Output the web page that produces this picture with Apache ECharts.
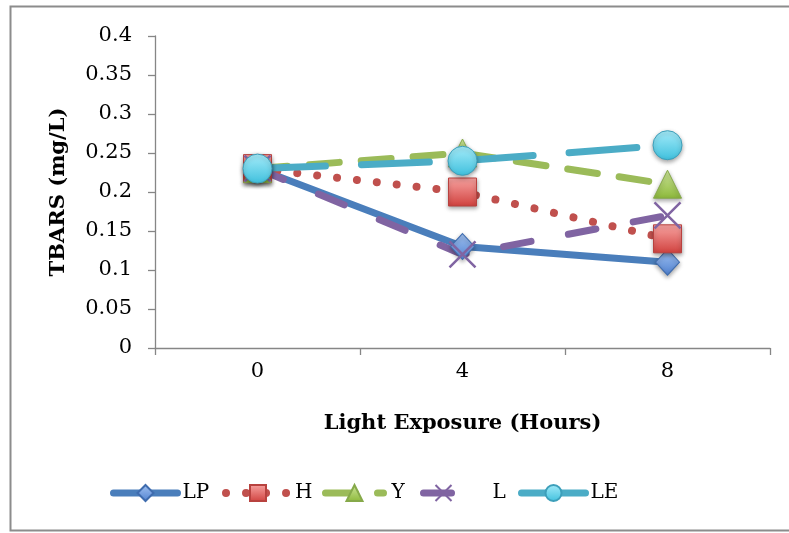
<!DOCTYPE html>
<html>
<head>
<meta charset="utf-8">
<script src="https://cdn.jsdelivr.net/npm/echarts@6/dist/echarts.min.js"></script>
<style>html,body{margin:0;padding:0;background:#fff}#c{width:789px;height:533px}</style>
</head>
<body>
<div id="c"></div>
<script>
const categories = ['0', '4', '8'];
const seriesNames = ['LP', 'H', 'Y', 'L', 'LE'];
const valuesLP = [0.23, 0.13, 0.11];
const valuesH = [0.23, 0.20, 0.14];
const valuesY = [0.23, 0.25, 0.21];
const valuesL = [0.23, 0.12, 0.17];
const valuesLE = [0.23, 0.24, 0.26];
const yTicks = { min: 0, max: 0.4, interval: 0.05 };

const FONT = 'DejaVu Serif';
function grad(top, bottom) {
  return new echarts.graphic.LinearGradient(0, 0, 0, 1, [
    { offset: 0, color: top }, { offset: 1, color: bottom }
  ]);
}
const shadow = { shadowColor: 'rgba(0,0,0,0.35)', shadowBlur: 4, shadowOffsetY: 2 };
const crossPath = 'path://M0,0L20,20M20,0L0,20';

const seriesDefs = [
  { name: 'LP', data: valuesLP, color: '#4a7ebb', symbol: 'diamond', size: [24, 26],
    fill: grad('#a3c3f2', '#4f81d0'), border: '#3f6cae', dash: 'solid', width: 7 },
  { name: 'H', data: valuesH, color: '#c0504d', symbol: 'rect', size: 28,
    fill: grad('#f8a4a2', '#d0413e'), border: '#b8423f', dash: [0.01, 20], width: 8 },
  { name: 'Y', data: valuesY, color: '#9bbb59', symbol: 'triangle', size: [28, 28],
    fill: grad('#cfe79b', '#8cb83a'), border: '#86a94a', dash: [30, 22], width: 7 },
  { name: 'L', data: valuesL, color: '#8064a2', symbol: crossPath, size: 26,
    fill: 'rgba(0,0,0,0)', border: '#8064a2', dash: [28, 38], width: 7, cross: true },
  { name: 'LE', data: valuesLE, color: '#4bacc6', symbol: 'circle', size: 29,
    fill: grad('#a6ecfa', '#3fc0dd'), border: '#3d9fba', dash: [68, 36], width: 7 }
];

const series = seriesDefs.map(d => ({
  name: d.name,
  type: 'line',
  data: d.data,
  symbol: d.symbol,
  symbolSize: d.size,
  showAllSymbol: true,
  animation: false,
  lineStyle: { color: d.color, width: d.width, type: d.dash, cap: 'round', join: 'round' },
  itemStyle: Object.assign({
    color: d.fill, borderColor: d.border, borderWidth: d.cross ? 2.5 : 1, opacity: 1
  }, d.cross ? {} : shadow),
  emphasis: { disabled: true }
}));

const legendPos = [
  { name: 'LP', left: 110, w: 64, pad: 0 },
  { name: 'H', left: 222, w: 64, pad: 0 },
  { name: 'Y', left: 322, w: 58, pad: 3 },
  { name: 'L', left: 420, w: 40, pad: 24 },
  { name: 'LE', left: 518, w: 64, pad: 0 }
];
const legends = legendPos.map(p => ({
  data: [p.name],
  left: p.left,
  top: 483,
  itemWidth: p.w,
  itemHeight: 20,
  itemGap: 0,
  padding: 0,
  selectedMode: false,
  lineStyle: { width: 'inherit' },
  textStyle: { fontFamily: FONT, fontSize: 20, color: '#000', padding: [3, 0, 0, p.pad] }
}));

const option = {
  backgroundColor: '#fff',
  animation: false,
  grid: { left: 155, right: 19, top: 36, bottom: 185, containLabel: false },
  legend: legends,
  xAxis: {
    type: 'category',
    data: categories,
    boundaryGap: true,
    name: 'Light Exposure (Hours)',
    nameLocation: 'middle',
    nameGap: 65,
    nameTextStyle: { fontFamily: FONT, fontSize: 21, fontWeight: 'bold', color: '#000' },
    axisLine: { lineStyle: { color: '#868686', width: 1.3 } },
    axisTick: { show: true, length: 7, alignWithLabel: false, lineStyle: { color: '#868686', width: 1.3 } },
    axisLabel: { fontFamily: FONT, fontSize: 21, color: '#000', margin: 13 },
    splitLine: { show: false }
  },
  yAxis: {
    type: 'value',
    min: yTicks.min,
    max: yTicks.max,
    interval: yTicks.interval,
    name: 'TBARS (mg/L)',
    nameLocation: 'middle',
    nameGap: 86,
    nameRotate: 90,
    nameTextStyle: { fontFamily: FONT, fontSize: 21, fontWeight: 'bold', color: '#000' },
    axisLine: { show: true, lineStyle: { color: '#868686', width: 1.3 } },
    axisTick: { show: true, length: 7, lineStyle: { color: '#868686', width: 1.3 } },
    axisLabel: { fontFamily: FONT, fontSize: 21, color: '#000', margin: 23,
      formatter: v => String(Math.round(v * 100) / 100) },
    splitLine: { show: false }
  },
  graphic: [{
    type: 'rect',
    shape: { x: 10.5, y: 6.5, width: 800, height: 524 },
    style: { fill: 'none', stroke: '#8c8c8c', lineWidth: 2 },
    silent: true,
    z: 100
  }],
  series: series
};

const chart = echarts.init(document.getElementById('c'), null, { renderer: 'canvas' });
chart.setOption(option);
</script>
</body>
</html>
